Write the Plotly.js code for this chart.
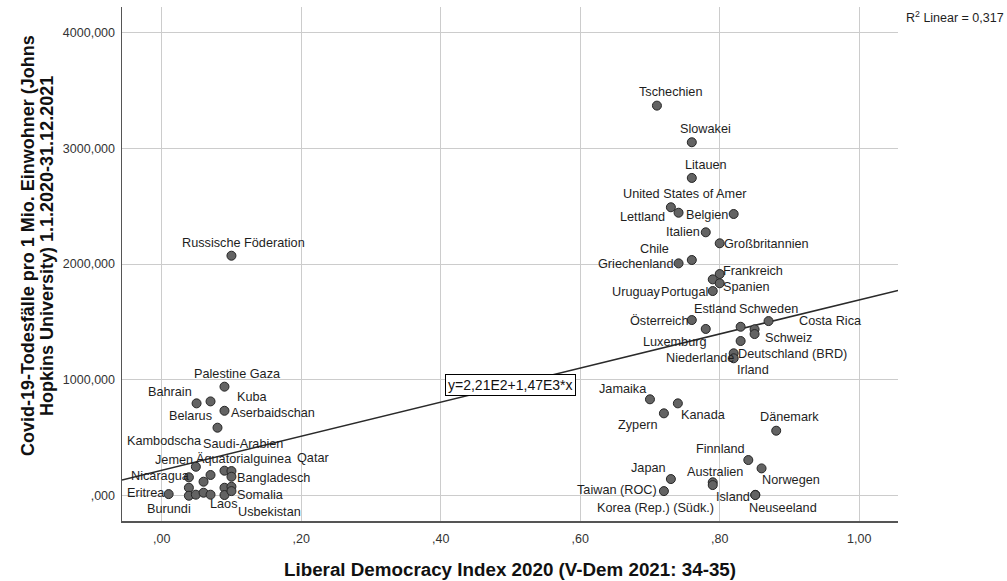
<!DOCTYPE html>
<html><head><meta charset="utf-8">
<script src="https://cdn.plot.ly/plotly-3.0.1.min.js"></script>
<style>html,body{margin:0;padding:0;background:#fff;} #chart{width:1007px;height:581px;}</style>
</head><body><div id="chart"></div>
<script>
// ---- data ----
const countries = [
 "Palestine Gaza","Bahrain","Aserbaidschan","Kuba","Belarus","Saudi-Arabien","Kambodscha","Äquatorialguinea","Qatar","",
 "Bangladesch","Nicaragua","Jemen","Eritrea","Burundi","","","","","Somalia","Laos","Usbekistan","Russische Föderation",
 "Tschechien","Slowakei","Litauen","United States of Amer","Lettland","Belgien","Italien","Großbritannien","Chile","Griechenland",
 "Frankreich","Uruguay","Spanien","Portugal","Österreich","Luxemburg","Estland","Schweden","Costa Rica","Schweiz",
 "Deutschland (BRD)","Irland","Niederlande","Jamaika","Kanada","Zypern","Dänemark","Finnland","Norwegen","Japan",
 "Australien","Korea (Rep.) (Südk.)","Taiwan (ROC)","Island","Neuseeland"
];
const ldi = [
 0.090,0.050,0.070,0.090,0.080,0.049,0.070,0.060,0.090,0.100,
 0.100,0.039,0.039,0.010,0.039,0.049,0.060,0.070,0.090,0.100,0.090,0.100,0.100,
 0.710,0.760,0.760,0.730,0.741,0.820,0.780,0.800,0.760,0.741,
 0.800,0.790,0.800,0.790,0.760,0.780,0.830,0.870,0.850,0.850,
 0.830,0.820,0.820,0.700,0.740,0.720,0.881,0.841,0.860,0.730,
 0.790,0.790,0.720,0.851,0.851
];
const deaths = [
 942,798,815,734,588,251,180,122,217,214,
 165,160,70,15,1,10,27,10,70,79,7,41,2072,
 3367,3051,2743,2490,2443,2432,2274,2179,2035,2006,
 1914,1868,1834,1767,1517,1440,1459,1508,1437,1396,
 1336,1230,1187,833,798,712,562,309,237,145,
 117,93,41,9,7
];
const xTickVals = [0,0.2,0.4,0.6,0.8,1.0];
const xTickText = [",00",",20",",40",",60",",80","1,00"];
const yTickVals = [0,1000,2000,3000,4000];
const yTickText = [",000","1000,000","2000,000","3000,000","4000,000"];
const fitIntercept = 221;   // y = 2,21E2 + 1,47E3*x
const fitSlope = 1470;
const fitText = "y=2,21E2+1,47E3*x";
const r2Text = "R<sup>2</sup> Linear = 0,317";
const xTitle = "Liberal Democracy Index 2020 (V-Dem 2021: 34-35)";
const yTitleLines = ["Covid-19-Todesfälle pro 1 Mio. Einwohner (Johns", "Hopkins University) 1.1.2020-31.12.2021"];

// ---- label placement (pixel offsets from each point; layout only) ----
const labelOffsets = [
 [13,-13],[-27,-11],[62,12],[28,-14],[-27,-12],[47,-23],[-46,-34],[40,-23],[89,-13],null,
 [42,1],[-28,-1],[-15,-28],[-23,-1],[-20,13],null,null,null,null,[29,8],[0,9],[38,21],[12,-13],
 [14,-14],[14,-13],[14,-13],[14,-13],[-36,4],[-27,1],[-23,0],[47,1],[-37,-11],[-43,1],
 [33,-3],[-76,13],[27,4],[-28,1],[-32,1],[-31,13],[-26,-18],[0,-12],[76,-8],[34,4],
 [52,13],[19,17],[-34,0],[-27,-10],[26,12],[-26,12],[13,-14],[-28,-11],[29,12],[-22,-11],
 [2,-10],[-57,23],[-47,-1],[-22,2],[28,13]
];

const FONT = "'Liberation Sans', Arial, Helvetica, sans-serif";
const xRange = [-0.0569, 1.0556];
const yRange = [-217, 4218];
const PLOT_L = 122, PLOT_W = 776, PLOT_T = 7, PLOT_H = 514;
const PLOT_B = PLOT_T + PLOT_H;
const px2paperX = px => (px - PLOT_L) / PLOT_W;
const px2paperY = py => (PLOT_B - py) / PLOT_H;

const fitX = xRange.slice();
const fitY = fitX.map(v => fitIntercept + fitSlope * v);

const traces = [
 {x: fitX, y: fitY, mode: 'lines', line: {color: '#2a2a2a', width: 1.5}, hoverinfo: 'skip'},
 {x: ldi, y: deaths, mode: 'markers', type: 'scatter', hoverinfo: 'skip',
  marker: {size: 9, color: '#636363', line: {color: '#262626', width: 1}}}
];

const annotations = [];
countries.forEach((c, i) => {
  const off = labelOffsets[i];
  if (!c || !off) return;
  annotations.push({x: ldi[i], y: deaths[i], xref: 'x', yref: 'y', text: c, showarrow: false,
    xanchor: 'center', yanchor: 'middle', xshift: off[0], yshift: -off[1],
    font: {family: FONT, size: 12.7, color: '#1e1e1e'}});
});
const eqX = 0.5;
annotations.push({x: eqX, y: fitIntercept + fitSlope * eqX, xref: 'x', yref: 'y', text: fitText,
  showarrow: false, xanchor: 'center', yanchor: 'middle', bgcolor: '#ffffff', bordercolor: '#000000',
  borderwidth: 1, borderpad: 2, font: {family: FONT, size: 14, color: '#111'}});
annotations.push({x: 1, y: px2paperY(17), xref: 'paper', yref: 'paper', text: r2Text, showarrow: false,
  xanchor: 'left', yanchor: 'middle', xshift: 6, font: {family: FONT, size: 12.5, color: '#1e1e1e'}});
annotations.push({x: px2paperX(510), y: px2paperY(569), xref: 'paper', yref: 'paper', text: '<b>' + xTitle + '</b>', showarrow: false,
  xanchor: 'center', yanchor: 'middle', font: {family: FONT, size: 18.8, color: '#111'}});
const yTitleX = [28, 47];
yTitleLines.forEach((t, k) => {
  annotations.push({x: px2paperX(yTitleX[k]), y: px2paperY(246), xref: 'paper', yref: 'paper', text: '<b>' + t + '</b>',
    showarrow: false, textangle: -90, xanchor: 'center', yanchor: 'middle', font: {family: FONT, size: 18, color: '#111'}});
});

const axisCommon = {
  showgrid: true, gridcolor: '#cccccc', gridwidth: 1, zeroline: false,
  showline: true, linecolor: '#555555', linewidth: 1.5, ticks: '', mirror: false,
  tickfont: {family: FONT, size: 12.5, color: '#333333'}, fixedrange: true
};
const layout = {
  width: 1007, height: 581, margin: {l: PLOT_L, r: 1007 - PLOT_L - PLOT_W, t: PLOT_T, b: 581 - PLOT_B},
  paper_bgcolor: '#ffffff', plot_bgcolor: '#ffffff', showlegend: false,
  xaxis: Object.assign({}, axisCommon, {range: xRange, tickvals: xTickVals, ticktext: xTickText, ticklabelstandoff: 5}),
  yaxis: Object.assign({}, axisCommon, {range: yRange, tickvals: yTickVals, ticktext: yTickText, ticklabelstandoff: 3}),
  annotations: annotations
};
Plotly.newPlot('chart', traces, layout, {staticPlot: true, displayModeBar: false});
</script></body></html>
